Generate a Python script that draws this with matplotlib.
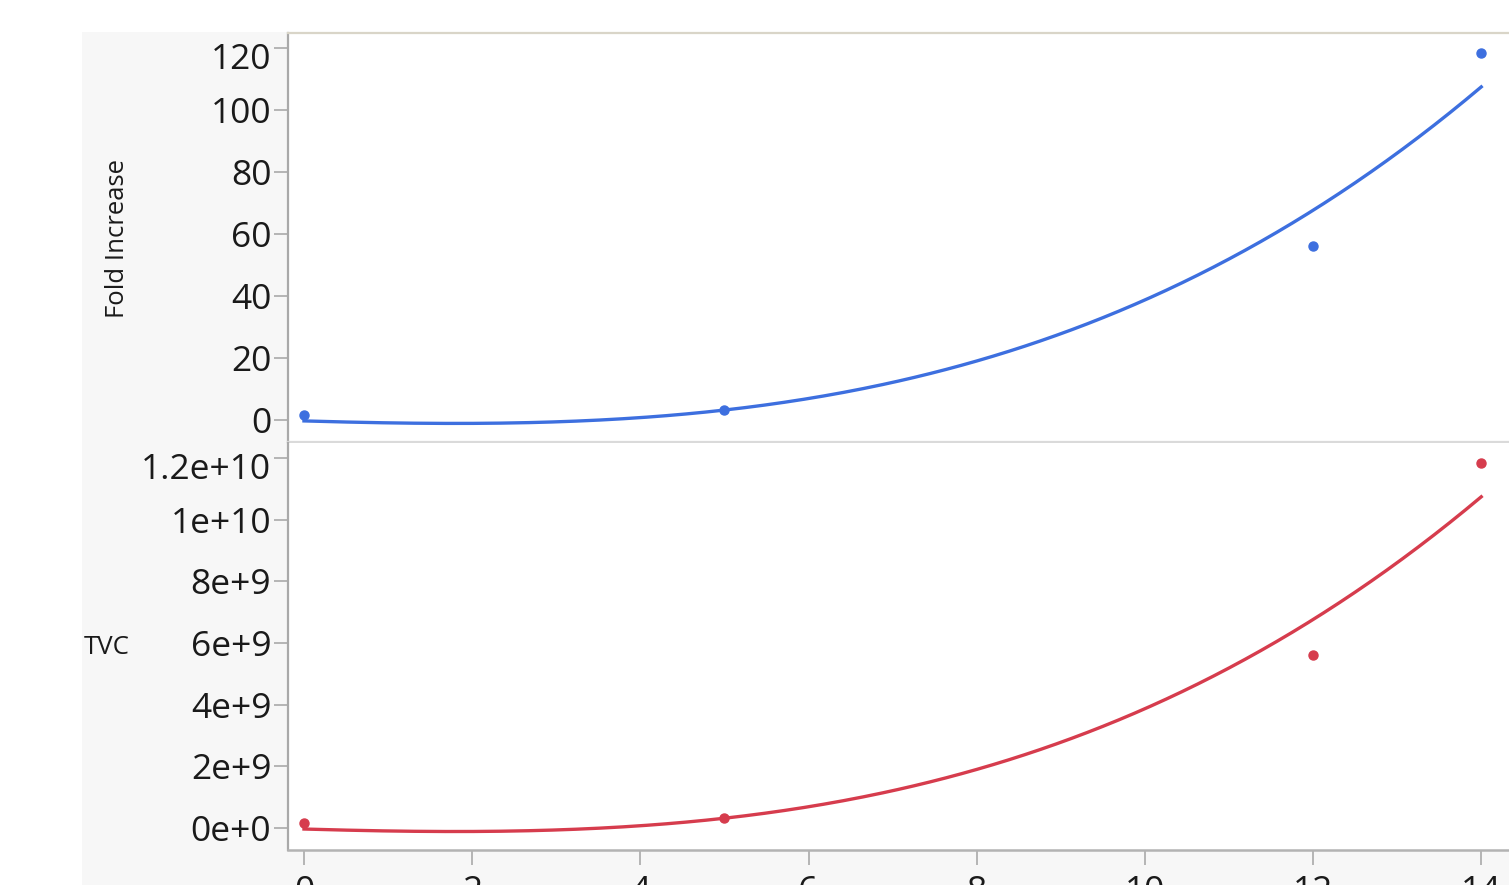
import numpy as np
import matplotlib
matplotlib.use("Agg")
import matplotlib.pyplot as plt
import matplotlib.transforms as mtransforms

plt.rcParams['font.family'] = ['Open Sans', 'DejaVu Sans']

# measured values
days = [0, 5, 12, 14]
fold_increase = [1.6, 3.2, 56.1, 118.4]
tvc = [1.6e8, 3.2e8, 5.61e9, 1.184e10]

# cubic trend lines (highest power first)
fold_fit = [0.03425, 0.1263, -0.787, -0.3]
tvc_fit = [0.03425e8, 0.1263e8, -0.787e8, -0.3e8]

x_ticks = [0, 2, 4, 6, 8, 10, 12, 14]
fold_ticks = [0, 20, 40, 60, 80, 100, 120]
tvc_ticks = [0, 2e9, 4e9, 6e9, 8e9, 1e10, 1.2e10]
tvc_tick_labels = ['0e+0', '2e+9', '4e+9', '6e+9', '8e+9', '1e+10', '1.2e+10']

BLUE = '#3d6fdf'
RED = '#d63c4d'
W, H = 1509, 885

fig = plt.figure(figsize=(W / 100, H / 100), dpi=100)
fig.patch.set_facecolor('white')

# grey frame behind the axis labels
bg = fig.add_axes([82 / W, 0, 1 - 82 / W, 1 - 32 / H], zorder=-5)
bg.set_facecolor('#f7f7f7')
bg.set_xticks([])
bg.set_yticks([])
for s in bg.spines.values():
    s.set_visible(False)

ax1 = fig.add_axes([288 / W, 1 - 442 / H, 1 - 288 / W, (442 - 33) / H])
ax2 = fig.add_axes([288 / W, 1 - 850 / H, 1 - 288 / W, (850 - 443) / H])

xs = np.linspace(days[0], days[-1], 300)

def style(ax):
    ax.set_facecolor('white')
    ax.set_xlim(-0.19, 14.33)
    ax.spines['right'].set_visible(False)
    ax.spines['left'].set_color('#a9a9a9')
    ax.spines['left'].set_linewidth(1.6)
    ax.tick_params(axis='y', length=10, width=1.2, color='#a9a9a9', pad=2,
                   labelsize=25.5, labelcolor='#1a1a1a')

# Fold Increase panel
ax1.plot(xs, np.polyval(fold_fit, xs), color=BLUE, lw=2.4, zorder=2)
ax1.plot(days, fold_increase, 'o', color=BLUE, ms=6.5, zorder=3)
style(ax1)
ax1.set_ylim(-7.1, 124.8)
ax1.set_yticks(fold_ticks)
ax1.set_xticks([])
ax1.spines['top'].set_color('#d9d5c8')
ax1.spines['top'].set_linewidth(1.6)
ax1.spines['bottom'].set_color('#dadada')
ax1.spines['bottom'].set_linewidth(1.6)

# TVC panel
ax2.plot(xs, np.polyval(tvc_fit, xs), color=RED, lw=2.4, zorder=2)
ax2.plot(days, tvc, 'o', color=RED, ms=6.5, zorder=3)
style(ax2)
ax2.set_ylim(-7.1e8, 1.2486e10)
ax2.set_yticks(tvc_ticks)
ax2.set_yticklabels(tvc_tick_labels)
ax2.spines['top'].set_visible(False)
ax2.spines['bottom'].set_color('#b3b3b3')
ax2.spines['bottom'].set_linewidth(1.8)
ax2.set_xticks(x_ticks)
ax2.tick_params(axis='x', length=11, width=1.2, color='#a9a9a9', pad=7,
                labelsize=25.5, labelcolor='#1a1a1a')

fig.text(117 / W, 1 - 238 / H, 'Fold Increase', rotation=90, ha='center', va='center',
         fontsize=18.5, color='#1a1a1a')
fig.text(84 / W, 1 - 647 / H, 'TVC', ha='left', va='center', fontsize=18.5, color='#1a1a1a')

# nudge the topmost label of each panel down so it sits inside the frame
fig.canvas.draw()
shift = mtransforms.ScaledTranslation(0, -8 / 100, fig.dpi_scale_trans)
for ax in (ax1, ax2):
    lbl = ax.get_yticklabels()[-1]
    lbl.set_transform(lbl.get_transform() + shift)

fig.savefig('out.png', dpi=100)
